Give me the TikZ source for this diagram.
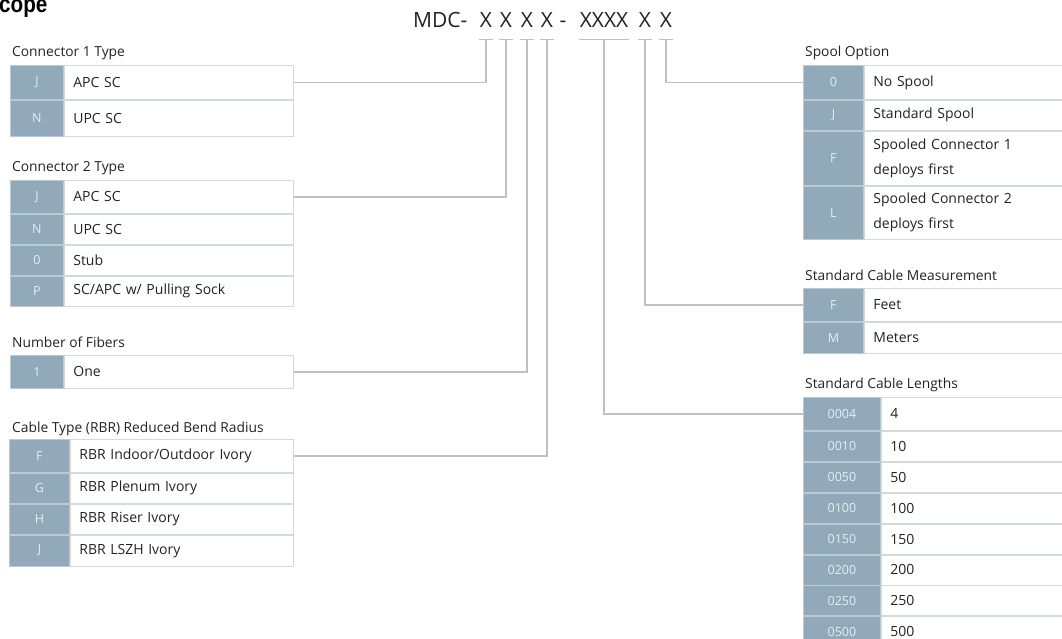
\documentclass[tikz,border=0pt]{standalone}
\usepackage{fontspec}
\setmainfont{Open Sans}
\newfontfamily\capfont{Liberation Sans}
\usepackage{xcolor}
\usepackage{tikz}
\usetikzlibrary{positioning}
\definecolor{keyblue}{RGB}{146,169,186}
\definecolor{keyline}{RGB}{186,202,212}
\definecolor{keytext}{RGB}{230,237,242}
\definecolor{cellline}{RGB}{212,217,220}
\definecolor{wiregray}{RGB}{192,192,192}
\definecolor{ink}{RGB}{34,34,34}
\tikzset{
  keycell/.style={draw=keyline, line width=0.9pt, fill=keyblue, text=keytext, inner sep=0pt,
    minimum width=#1, minimum height=30pt, font=\fontsize{12.5}{14}\selectfont},
  keycell/.default=53pt,
  textcell/.style={draw=cellline, line width=0.9pt, inner xsep=9pt, inner ysep=0pt, text width=#1,
    minimum height=30pt, align=left, text=ink, font=\fontsize{14}{25}\selectfont},
  textcell/.default=211pt,
  title/.style={anchor=base west, inner sep=0pt, text=ink, font=\fontsize{13.8}{16}\selectfont},
  head/.style={anchor=base, inner xsep=1pt, inner ysep=11pt, text=ink, font=\fontsize{21}{24}\selectfont},
  wire/.style={draw=wiregray, line width=1.3pt}
}

\begin{document}
\begin{tikzpicture}[x=1pt, y=-1pt]
    \useasboundingbox (0,0) rectangle (1062,639);
    \node[anchor=base west, inner sep=0pt, text=black, font=\capfont\bfseries\fontsize{24}{24}\selectfont] (scope) at (-1,13) {\scalebox{0.86}[1]{cope}};

    % Part number
    \node[head, anchor=base west, inner xsep=0pt] (mdc) at (413,28) {MDC-};
    \node[head] (xcon1) at (486,28) {X};
    \node[head] (xcon2) at (506,28) {X};
    \node[head] (xfib) at (527,28) {X};
    \node[head] (xcab) at (547,28) {X};
    \node[head] (dash) at (563,28) {-};
    \node[head] (xlen) at (604,28) {XXXX};
    \node[head] (xmeas) at (645,28) {X};
    \node[head] (xspool) at (666,28) {X};

    % Connector 1 Type
    \node[title] (c1title) at (12,57) {Connector 1 Type};
    \node[keycell, minimum height=34pt, anchor=north west] (c1k1) at (10,65) {J};
    \node[keycell, minimum height=36pt, below=0pt of c1k1] (c1k2) {N};
    \node[textcell, minimum height=34pt, right=0pt of c1k1] (c1t1) {APC SC};
    \node[textcell, minimum height=36pt, right=0pt of c1k2] (c1t2) {UPC SC};

    % Connector 2 Type
    \node[title] (c2title) at (12,172) {Connector 2 Type};
    \node[keycell, minimum height=33pt, anchor=north west] (c2k1) at (10,180) {J};
    \node[keycell, below=0pt of c2k1] (c2k2) {N};
    \node[keycell, below=0pt of c2k2] (c2k3) {0};
    \node[keycell, below=0pt of c2k3] (c2k4) {P};
    \node[textcell, minimum height=33pt, right=0pt of c2k1] (c2t1) {APC SC};
    \node[textcell, right=0pt of c2k2] (c2t2) {UPC SC};
    \node[textcell, right=0pt of c2k3] (c2t3) {Stub};
    \node[textcell, right=0pt of c2k4] (c2t4) {SC/APC w/ Pulling Sock};

    % Number of Fibers
    \node[title] (fbtitle) at (12,347) {Number of Fibers};
    \node[keycell, minimum height=33pt, anchor=north west] (fbk1) at (10,355) {1};
    \node[textcell, minimum height=33pt, right=0pt of fbk1] (fbt1) {One};

    % Cable Type
    \node[title] (cbtitle) at (12,432) {Cable Type (RBR) Reduced Bend Radius};
    \node[keycell=60pt, minimum height=33pt, anchor=north west] (cbk1) at (9,439) {F};
    \node[keycell=60pt, below=0pt of cbk1] (cbk2) {G};
    \node[keycell=60pt, below=0pt of cbk2] (cbk3) {H};
    \node[keycell=60pt, minimum height=31pt, below=0pt of cbk3] (cbk4) {J};
    \node[textcell=205pt, minimum height=33pt, right=0pt of cbk1] (cbt1) {RBR Indoor/Outdoor Ivory};
    \node[textcell=205pt, right=0pt of cbk2] (cbt2) {RBR Plenum Ivory};
    \node[textcell=205pt, right=0pt of cbk3] (cbt3) {RBR Riser Ivory};
    \node[textcell=205pt, minimum height=31pt, right=0pt of cbk4] (cbt4) {RBR LSZH Ivory};

    % Spool Option
    \node[title] (sptitle) at (805,57) {Spool Option};
    \node[keycell=60pt, minimum height=34pt, anchor=north west] (spk1) at (803,65) {0};
    \node[keycell=60pt, below=0pt of spk1] (spk2) {J};
    \node[keycell=60pt, minimum height=54pt, below=0pt of spk2] (spk3) {F};
    \node[keycell=60pt, minimum height=53pt, below=0pt of spk3] (spk4) {L};
    \node[textcell=194pt, minimum height=34pt, right=0pt of spk1] (spt1) {No Spool};
    \node[textcell=194pt, right=0pt of spk2] (spt2) {Standard Spool};
    \node[textcell=194pt, minimum height=54pt, right=0pt of spk3] (spt3) {Spooled Connector 1\\ deploys first};
    \node[textcell=194pt, minimum height=53pt, right=0pt of spk4] (spt4) {Spooled Connector 2\\ deploys first};

    % Standard Cable Measurement
    \node[title] (mstitle) at (805,280) {Standard Cable Measurement};
    \node[keycell=60pt, minimum height=33pt, anchor=north west] (msk1) at (803,288) {F};
    \node[keycell=60pt, minimum height=31pt, below=0pt of msk1] (msk2) {M};
    \node[textcell=194pt, minimum height=33pt, right=0pt of msk1] (mst1) {Feet};
    \node[textcell=194pt, minimum height=31pt, right=0pt of msk2] (mst2) {Meters};

    % Standard Cable Lengths
    \node[title] (lntitle) at (805,388) {Standard Cable Lengths};
    \node[keycell=77pt, minimum height=33pt, anchor=north west] (lnk1) at (803,397) {0004};
    \node[keycell=77pt, below=0pt of lnk1] (lnk2) {0010};
    \node[keycell=77pt, below=0pt of lnk2] (lnk3) {0050};
    \node[keycell=77pt, below=0pt of lnk3] (lnk4) {0100};
    \node[keycell=77pt, below=0pt of lnk4] (lnk5) {0150};
    \node[keycell=77pt, below=0pt of lnk5] (lnk6) {0200};
    \node[keycell=77pt, below=0pt of lnk6] (lnk7) {0250};
    \node[keycell=77pt, below=0pt of lnk7] (lnk8) {0500};
    \node[textcell=177pt, minimum height=33pt, right=0pt of lnk1] (lnt1) {4};
    \node[textcell=177pt, right=0pt of lnk2] (lnt2) {10};
    \node[textcell=177pt, right=0pt of lnk3] (lnt3) {50};
    \node[textcell=177pt, right=0pt of lnk4] (lnt4) {100};
    \node[textcell=177pt, right=0pt of lnk5] (lnt5) {150};
    \node[textcell=177pt, right=0pt of lnk6] (lnt6) {200};
    \node[textcell=177pt, right=0pt of lnk7] (lnt7) {250};
    \node[textcell=177pt, right=0pt of lnk8] (lnt8) {500};

    % Ticks and leader lines
    \foreach \n in {xcon1,xcon2,xfib,xcab,xlen,xmeas,xspool}
      \draw[wire] (\n.south west) -- (\n.south east);
    \draw[wire] (xcon1.south) |- (c1t1.east);
    \draw[wire] (xcon2.south) |- (c2t1.east);
    \draw[wire] (xfib.south) |- (fbt1.east);
    \draw[wire] (xcab.south) |- (cbt1.east);
    \draw[wire] (xlen.south) |- (lnk1.west);
    \draw[wire] (xmeas.south) |- (msk1.west);
    \draw[wire] (xspool.south) |- (spk1.west);
\end{tikzpicture}
\end{document}
